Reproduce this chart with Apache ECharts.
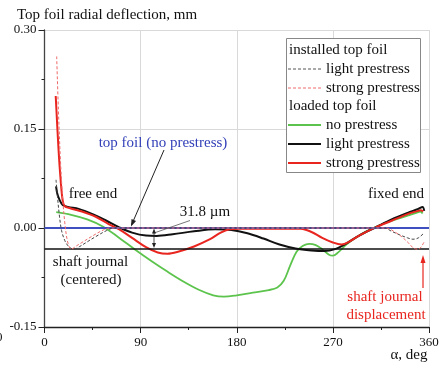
<!DOCTYPE html>
<html><head><meta charset="utf-8">
<script src="https://cdn.jsdelivr.net/npm/echarts@6/dist/echarts.min.js"></script>
<style>html,body{margin:0;padding:0;background:#fff;}#c{width:443px;height:368px;}</style>
</head><body><div id="c"></div>
<script>
// ---- data (angle deg, deflection mm) ----
const xTicks = [0, 90, 180, 270, 360];
const yTicks = [-0.15, 0.00, 0.15, 0.30];
const topFoilNoPrestress = [[0, 0], [360, 0]];
const shaftJournal = [[0, -0.0318], [360, -0.0318]];
const installedLight = [[10.8,0.073],[12,0.05],[14,0.018],[16,-0.004],[19,-0.019],[22,-0.027],[25,-0.031],[28,-0.0318],[33,-0.028],[38,-0.023],[48,-0.013],[58,-0.004],[65,0],[318,0],[325,-0.005],[332,-0.010],[340,-0.015],[345,-0.017],[350,-0.015],[355,-0.008]];
const installedStrong = [[11.4,0.26],[13,0.18],[15,0.10],[17,0.045],[19,0.008],[21,-0.016],[23,-0.028],[25,-0.0318],[30,-0.027],[35,-0.022],[45,-0.012],[55,-0.003],[61,0],[320,0],[328,-0.006],[335,-0.014],[341,-0.023],[346,-0.031],[350,-0.032],[352.5,-0.029],[355.5,-0.021]];
const loadedNo = [[11,0.024],[25,0.020],[40,0.013],[55,0.002],[70,-0.015],[85,-0.033],[100,-0.050],[115,-0.066],[130,-0.081],[145,-0.094],[158,-0.102],[168,-0.104],[180,-0.102],[195,-0.098],[210,-0.094],[218,-0.090],[224,-0.080],[230,-0.057],[236,-0.036],[242,-0.027],[248,-0.024],[254,-0.026],[260,-0.032],[266,-0.040],[270,-0.042],[275,-0.037],[282,-0.026],[292,-0.014],[305,-0.002],[320,0.008],[335,0.016],[348,0.023],[352,0.025],[354,0.022]];
const loadedLight = [[10.8,0.063],[12,0.052],[14,0.043],[17,0.035],[22,0.032],[32,0.029],[45,0.021],[58,0.011],[70,0.001],[82,-0.007],[95,-0.0115],[105,-0.012],[120,-0.0095],[140,-0.005],[160,-0.002],[175,-0.003],[190,-0.008],[205,-0.016],[220,-0.025],[235,-0.031],[250,-0.034],[262,-0.035],[272,-0.032],[282,-0.024],[295,-0.011],[310,0.001],[325,0.013],[340,0.023],[350,0.029],[354,0.032],[355.5,0.026]];
const loadedStrong = [[10.5,0.200],[13,0.123],[15,0.075],[17,0.042],[19,0.033],[24,0.030],[35,0.025],[48,0.017],[60,0.006],[70,-0.002],[82,-0.015],[95,-0.029],[106,-0.037],[115,-0.039],[125,-0.036],[140,-0.028],[155,-0.017],[165,-0.007],[173,-0.002],[182,-0.001],[240,-0.001],[250,-0.006],[260,-0.015],[270,-0.022],[278,-0.025],[285,-0.021],[295,-0.011],[310,0.001],[325,0.011],[340,0.021],[350,0.026],[352.5,0.027],[354.5,0.025]];

const FONT = '"Liberation Serif", "Times New Roman", serif';
const chart = echarts.init(document.getElementById('c'), null, {renderer: 'canvas'});

function arrowHead(x1, y1, x2, y2, color, len, hw) {
  const dx = x2 - x1, dy = y2 - y1, L = Math.hypot(dx, dy);
  const ux = dx / L, uy = dy / L, nx = -uy, ny = ux;
  const bx = x2 - len * ux, by = y2 - len * uy;
  return {type: 'polygon', silent: true, z: 100,
    shape: {points: [[x2, y2], [bx + hw * nx, by + hw * ny], [bx - hw * nx, by - hw * ny]]},
    style: {fill: color}};
}
function line(x1, y1, x2, y2, color, w, dash) {
  return {type: 'line', silent: true, z: 100, shape: {x1, y1, x2, y2},
    style: {stroke: color, lineWidth: w, lineDash: dash || null}};
}
function text(t, x, y, color, size, align) {
  return {type: 'text', silent: true, z: 100,
    style: {text: t, x, y, fill: color, font: size + 'px ' + FONT, align: align || 'left', verticalAlign: 'middle'}};
}

const lx = 286.5, ly = 38.5;
const legendGraphics = [
  {type: 'rect', silent: true, z: 99, shape: {x: lx, y: ly, width: 134, height: 134}, style: {fill: '#fff', stroke: '#888', lineWidth: 1}},
  text('installed top foil', 289, 50, '#111', 15),
  line(288, 69, 321, 69, '#555', 1, [3, 2]), text('light prestress', 326, 69, '#111', 15),
  line(288, 88, 321, 88, '#f06a6a', 1, [3, 2]), text('strong prestress', 326, 88, '#111', 15),
  text('loaded top foil', 289, 106, '#111', 15),
  line(288, 125, 321, 125, '#5cc44c', 2), text('no prestress', 326, 125, '#111', 15),
  line(288, 144, 321, 144, '#111', 2), text('light prestress', 326, 144, '#111', 15),
  line(288, 163, 321, 163, '#e8251f', 2), text('strong prestress', 326, 163, '#111', 15)
];

const annot = [
  text('Top foil radial deflection, mm', 17, 15, '#111', 15),
  text('0', -4, 338, '#111', 13),
  text('top foil (no prestress)', 163, 143, '#3340b8', 15, 'center'),
  line(164, 150, 131.5, 225, '#222', 1), arrowHead(164, 150, 131, 226.5, '#222', 7, 2.5),
  text('free end', 93, 194, '#111', 15, 'center'),
  text('shaft journal', 90.5, 262, '#111', 15, 'center'),
  text('(centered)', 91, 280, '#111', 15, 'center'),
  text('31.8 \u00b5m', 205, 212, '#111', 15, 'center'),
  line(154, 233, 190, 220.5, '#555', 0.8),
  line(154, 231, 154, 246, '#222', 0.8),
  arrowHead(154, 236, 154, 228.5, '#222', 5, 2),
  arrowHead(154, 241, 154, 248, '#222', 5, 2),
  text('fixed end', 396, 194, '#111', 15, 'center'),
  line(423, 288, 423, 262, '#e8251f', 1.2), arrowHead(423, 288, 423, 255, '#e8251f', 8, 2.5),
  text('shaft journal', 385, 297, '#e8251f', 15, 'center'),
  text('displacement', 386, 315, '#e8251f', 15, 'center'),
  text('\u03b1, deg', 409, 355, '#111', 15, 'center')
];

const common = {type: 'line', showSymbol: false, symbol: 'none', smooth: 0.35, silent: true};

chart.setOption({
  animation: false,
  backgroundColor: '#fff',
  grid: {left: 44.5, right: 14, top: 30, bottom: 41, containLabel: false},
  xAxis: {
    type: 'value', min: xTicks[0], max: xTicks[xTicks.length - 1], interval: 90,
    axisLine: {show: true, onZero: false, lineStyle: {color: '#222', width: 1.3}},
    axisTick: {show: true, inside: false, length: 6, lineStyle: {color: '#222'}},
    minorTick: {show: true, splitNumber: 2, length: 3, lineStyle: {color: '#222'}},
    splitLine: {show: true, lineStyle: {color: '#d9d9d9', width: 1}},
    axisLabel: {fontFamily: FONT, fontSize: 13, color: '#111', margin: 9}
  },
  yAxis: {
    type: 'value', min: yTicks[0], max: yTicks[yTicks.length - 1], interval: 0.15,
    axisLine: {show: true, onZero: false, lineStyle: {color: '#444', width: 1.3}},
    axisTick: {show: true, inside: false, length: 6, lineStyle: {color: '#222'}},
    minorTick: {show: true, splitNumber: 2, length: 3, lineStyle: {color: '#222'}},
    splitLine: {show: true, lineStyle: {color: '#d9d9d9', width: 1}},
    axisLabel: {fontFamily: FONT, fontSize: 13, color: '#111', margin: 8, formatter: v => v.toFixed(2)}
  },
  series: [
    Object.assign({}, common, {name: 'no prestress', data: loadedNo, lineStyle: {color: '#5cc44c', width: 1.8}, z: 3}),
    Object.assign({}, common, {name: 'light prestress', data: loadedLight, lineStyle: {color: '#111', width: 2}, z: 4}),
    Object.assign({}, common, {name: 'strong prestress', data: loadedStrong, lineStyle: {color: '#e8251f', width: 2}, z: 5}),
    Object.assign({}, common, {name: 'top foil (no prestress)', data: topFoilNoPrestress, smooth: false, lineStyle: {color: '#3f4fc0', width: 2}, z: 6}),
    Object.assign({}, common, {name: 'shaft journal', data: shaftJournal, smooth: false, lineStyle: {color: '#111', width: 1.3}, z: 6}),
    Object.assign({}, common, {name: 'installed light', data: installedLight, lineStyle: {color: '#444', width: 1, type: [3, 2]}, z: 7}),
    Object.assign({}, common, {name: 'installed strong', data: installedStrong, lineStyle: {color: '#f06a6a', width: 1, type: [3, 2]}, z: 7})
  ],
  graphic: legendGraphics.concat(annot)
});
</script></body></html>
